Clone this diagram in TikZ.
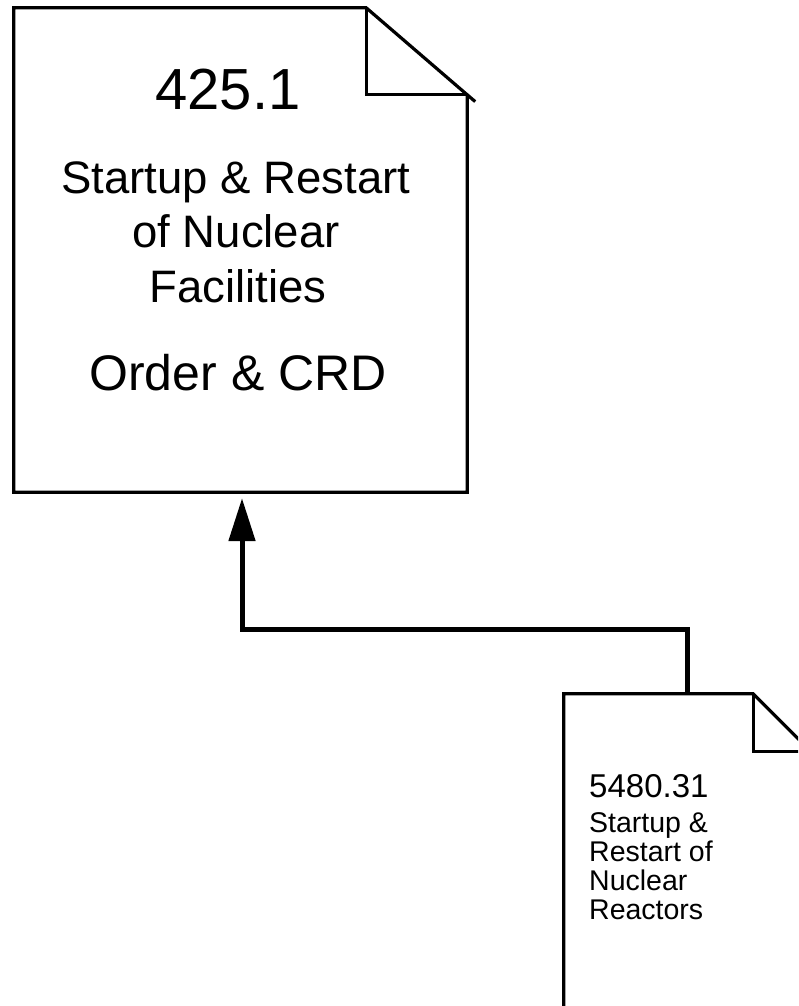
\documentclass[tikz,border=0pt]{standalone}
\usepackage{fontspec}
\setmainfont{Liberation Sans}
\usetikzlibrary{arrows.meta,calc}
\begin{document}
\begin{tikzpicture}[x=1pt,y=-1pt,
  docline/.style={line width=3.2pt, line join=miter, line cap=butt},
  conn/.style={line width=5pt, -{Triangle[length=43pt,width=26pt]}, shorten >=6pt},
  holder/.style={draw=none, inner sep=0pt},
  txt/.style={inner sep=0pt, anchor=base},
  ltxt/.style={inner sep=0pt, anchor=base west}]
\useasboundingbox (0,0) rectangle (798,1006);
\clip (0,0) rectangle (798,1006);
\fill[white] (0,0) rectangle (798,1006);
% big document
\node[holder, minimum width=453pt, minimum height=484pt] (big) at (240.5,250) {};
\coordinate (bf) at ($(big.north east)+(-101,0)$);
\coordinate (bc) at ($(big.north east)+(0,87)$);
\draw[docline] (big.north west) -- (bf) -- (bc) -- (big.south east) -- (big.south west) -- cycle;
\draw[docline] (bf) -- (bf |- bc) -- (bc);
\draw[docline] (bc) -- ++(8,6.8);
\node[txt, font=\fontsize{58}{60}\selectfont] (b1) at (228,110) {425.1};
\node[txt, font=\fontsize{45.5}{54}\selectfont] (b2) at (236,193) {Startup \& Restart};
\node[txt, font=\fontsize{45.5}{54}\selectfont] (b3) at (236,247) {of Nuclear};
\node[txt, font=\fontsize{45.5}{54}\selectfont] (b4) at (238,302) {Facilities};
\node[txt, font=\fontsize{50}{56}\selectfont] (b5) at (238,390) {Order \& CRD};
% small document
\node[holder, minimum width=247pt, minimum height=336pt] (small) at (687.5,862) {};
\coordinate (sf) at ($(small.north east)+(-58,0)$);
\coordinate (sc) at ($(small.north east)+(0,58)$);
\draw[docline] (small.south west) -- (small.north west) -- (sf) -- (sc) -- (small.south east);
\draw[docline] (sf) -- (sf |- sc) -- (sc);
\node[ltxt, font=\fontsize{33}{36}\selectfont] (s1) at (589,797) {5480.31};
\node[ltxt, font=\fontsize{28.5}{29}\selectfont] (s2) at (589,832) {Startup \&};
\node[ltxt, font=\fontsize{28.5}{29}\selectfont] (s3) at (589,861) {Restart of};
\node[ltxt, font=\fontsize{28.5}{29}\selectfont] (s4) at (589,890) {Nuclear};
\node[ltxt, font=\fontsize{28.5}{29}\selectfont] (s5) at (589,919) {Reactors};
% connector
\draw[conn] (small.north) -- ++(0,-64) -| ([xshift=1.5pt]big.south);
\end{tikzpicture}
\end{document}
